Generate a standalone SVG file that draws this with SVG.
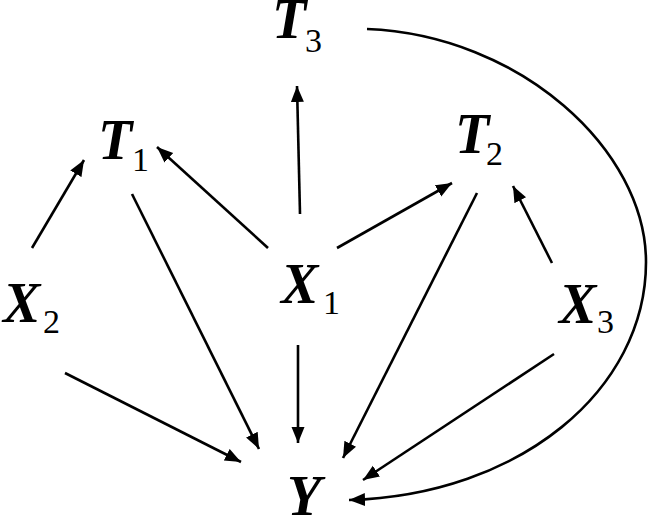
<svg xmlns="http://www.w3.org/2000/svg" width="650" height="519" viewBox="0 0 650 519">
<defs>
<style>
.v{font-family:'Liberation Serif','Times New Roman',serif;font-weight:700;font-style:italic;font-size:56px;fill:#000}
.s{font-family:'Liberation Serif','Times New Roman',serif;font-weight:400;font-size:34px;fill:#000}
.e{stroke:#000;stroke-width:2.6;fill:none;marker-end:url(#ah)}
</style>
<marker id="ah" markerUnits="userSpaceOnUse" markerWidth="17" markerHeight="14" refX="16" refY="6.5" orient="auto">
<path d="M0,0 L16,6.5 L0,13 z" fill="#000"/>
</marker>
</defs>
<rect width="650" height="519" fill="#fff"/>
<g id="connectors">
<line class="e" x1="32" y1="248" x2="84" y2="160"/>
<line class="e" x1="268" y1="248" x2="157" y2="147"/>
<line class="e" x1="132" y1="194" x2="259" y2="449"/>
<line class="e" x1="300" y1="214" x2="297" y2="86"/>
<line class="e" x1="337" y1="248" x2="452" y2="183"/>
<line class="e" x1="298" y1="345" x2="298" y2="443"/>
<line class="e" x1="65" y1="373" x2="241" y2="462"/>
<line class="e" x1="477" y1="193" x2="343" y2="458"/>
<line class="e" x1="552" y1="263" x2="513" y2="186"/>
<line class="e" x1="554" y1="354" x2="363" y2="480"/>
<path class="e" d="M367,29 C520,35 646,150 646,262 C646,390 520,495 349,500"/>
</g>
<g id="T3"><text class="v" x="272" y="38">T</text><text class="s" x="305" y="52">3</text></g>
<g id="T1"><text class="v" x="98" y="159">T</text><text class="s" x="132" y="171">1</text></g>
<g id="T2"><text class="v" x="455" y="153">T</text><text class="s" x="486" y="165">2</text></g>
<g id="X2"><text class="v" x="3" y="322">X</text><text class="s" x="43" y="333">2</text></g>
<g id="X1"><text class="v" x="281" y="303">X</text><text class="s" x="323" y="314">1</text></g>
<g id="X3"><text class="v" x="559" y="323">X</text><text class="s" x="597" y="333">3</text></g>
<g id="Y"><text class="v" x="287" y="515">Y</text></g>
</svg>
